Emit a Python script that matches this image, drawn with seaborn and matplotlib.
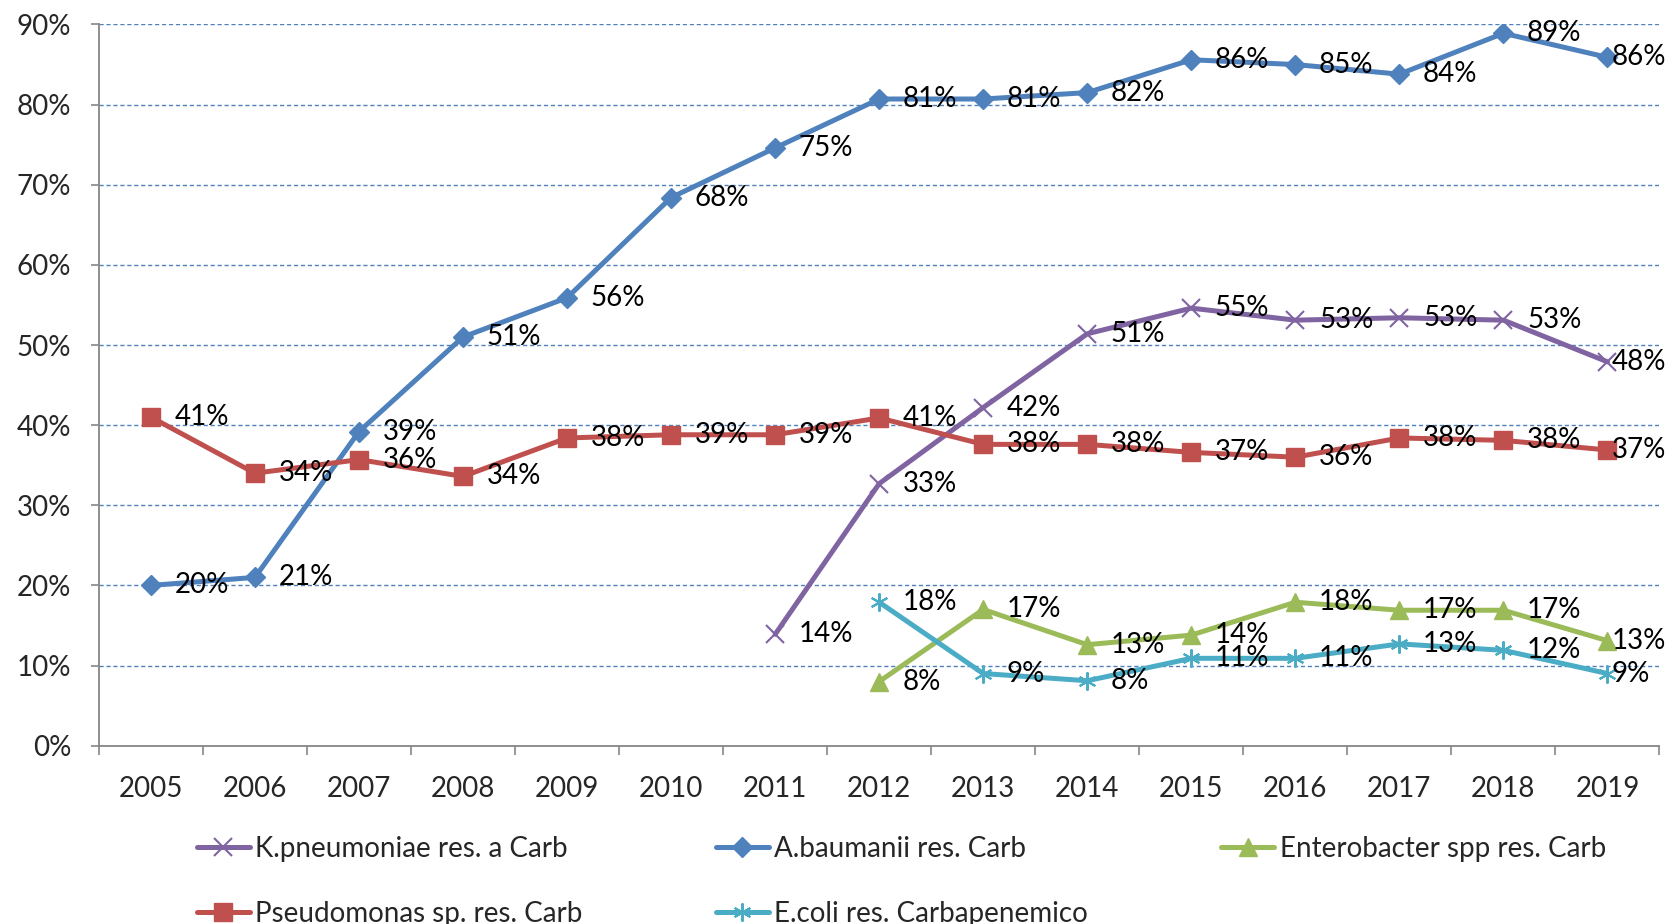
import numpy as np
import pandas as pd
import matplotlib
matplotlib.use("Agg")
import matplotlib.pyplot as plt
import seaborn as sns

# years on the x axis
years = list(range(2005, 2020))

# resistance values in %
kpneumoniae = [13.9, 32.7, 42.2, 51.4, 54.6, 53.1, 53.4, 53.1, 47.9]  # 2011-2019
abaumanii = [20.0, 21.0, 39.2, 51.0, 55.9, 68.4, 74.6, 80.7, 80.7, 81.5, 85.6, 85.0, 83.8, 88.9, 85.9]
enterobacter = [8.0, 17.0, 12.6, 13.8, 17.9, 16.9, 16.9, 13.1]  # 2012-2019
pseudomonas = [41.0, 34.0, 35.7, 33.6, 38.4, 38.8, 38.8, 40.9, 37.6, 37.6, 36.6, 36.0, 38.4, 38.1, 36.9]
ecoli = [17.9, 9.0, 8.1, 10.9, 10.9, 12.7, 11.9, 9.0]  # 2012-2019

names = ["K.pneumoniae res. a Carb", "A.baumanii res. Carb", "Enterobacter spp res. Carb",
         "Pseudomonas sp. res. Carb", "E.coli res. Carbapenemico"]
first_year = [2011, 2005, 2012, 2005, 2012]
values = [kpneumoniae, abaumanii, enterobacter, pseudomonas, ecoli]

colors = ["#8064A2", "#4F81BD", "#9BBB59", "#C0504D", "#4BACC6"]
markers = ["x", "D", "^", "s", (6, 2, 0)]
msizes = [13, 10, 13, 13, 13]
mews = [1.5, 1, 1, 1, 1.5]

sns.set_style("white")
plt.rcParams["font.family"] = ["Lato", "DejaVu Sans"]
FS = 20

fig = plt.figure(figsize=(16.68, 9.24), dpi=100)
ax = fig.add_axes([0.0593, 0.193, 0.9356, 0.7805])

handles = []
for name, vals, fy, c, m, ms, mew in zip(names, values, first_year, colors, markers, msizes, mews):
    df = pd.DataFrame({"year": years[years.index(fy):], "value": vals})
    sns.lineplot(data=df, x="year", y="value", ax=ax, color=c, linewidth=3.6,
                 marker=m, markersize=ms, markeredgewidth=mew,
                 markeredgecolor=c, markerfacecolor=c, legend=False)
    handles.append(ax.lines[-1])
    # data labels to the right of each point
    for x, v in zip(df["year"], df["value"]):
        off = 3 if x == years[-1] else 17
        ax.annotate(f"{v:.0f}%", (x, v), xytext=(off, 0), textcoords="offset points",
                    ha="left", va="center", fontsize=FS, color="black",
                    annotation_clip=False)

ax.set_xlim(2004.5, 2019.5)
ax.set_ylim(0, 90)
ax.set_yticks(range(0, 91, 10))
ax.set_yticklabels([f"{t}%" for t in range(0, 91, 10)])
ax.set_xticks(np.arange(2004.5, 2020, 1))
ax.set_xticklabels([])
ax.set_xticks(years, minor=True)
ax.set_xticklabels([str(y) for y in years], minor=True)
ax.set_xlabel("")
ax.set_ylabel("")

ax.tick_params(axis="y", which="major", direction="out", length=6, width=1.2,
               color="#868686", labelsize=FS, pad=14, left=True)
ax.tick_params(axis="x", which="major", direction="out", length=6.5, width=1.2,
               color="#868686", bottom=True)
ax.tick_params(axis="x", which="minor", length=0, labelsize=FS, pad=22)

ax.yaxis.grid(True, color="#4F81BD", linestyle=(0, (3, 2)), linewidth=1)
ax.set_axisbelow(True)
for s in ["top", "right"]:
    ax.spines[s].set_visible(False)
for s in ["left", "bottom"]:
    ax.spines[s].set_color("#868686")
    ax.spines[s].set_linewidth(1.3)
    ax.spines[s].set_zorder(3)

# legend: row-major order K, A, Entero / P, E.coli
order = [0, 3, 1, 4, 2]
fig.legend([handles[i] for i in order], [names[i] for i in order], ncol=3,
           loc="upper left", bbox_to_anchor=(0.118, 0.095), frameon=False,
           fontsize=FS, handlelength=1.9, handletextpad=0.2, columnspacing=4.8,
           labelspacing=1.4, borderpad=0, borderaxespad=0)

fig.savefig("out.png", dpi=100)
